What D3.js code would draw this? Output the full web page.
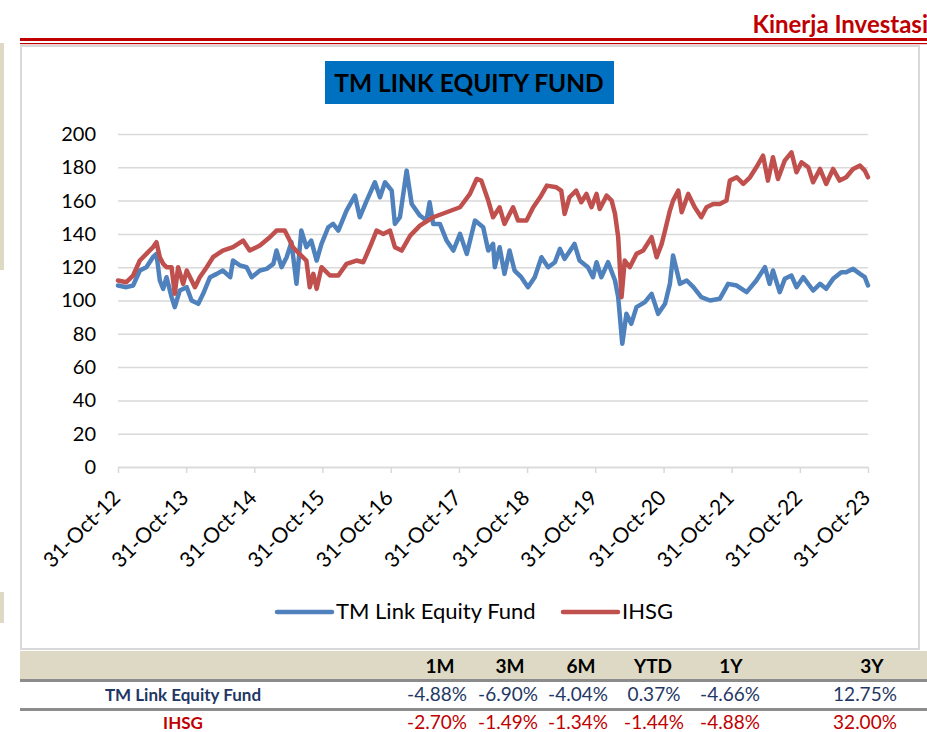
<!DOCTYPE html>
<html>
<head>
<meta charset="utf-8">
<script src="https://cdn.jsdelivr.net/npm/d3@7"></script>
<style>
  body { margin: 0; background: #fff; }
  svg text { font-family: Lato, "Open Sans", sans-serif; }
</style>
</head>
<body>
<div id="container"></div>
<script>
// fund (TM Link Equity Fund) readings
const fundDates = ["2012-10-31","2012-12-15","2013-01-20","2013-02-25","2013-04-01","2013-05-06","2013-05-25","2013-06-12","2013-06-30","2013-07-18","2013-08-14","2013-08-31","2013-09-27","2013-11-03","2013-11-29","2014-01-04","2014-01-30","2014-03-08","2014-04-13","2014-05-15","2014-06-24","2014-07-09","2014-08-16","2014-09-20","2014-10-17","2014-11-30","2015-01-05","2015-02-10","2015-02-27","2015-03-26","2015-04-22","2015-05-18","2015-06-14","2015-07-10","2015-08-06","2015-09-01","2015-09-30","2015-10-26","2015-12-01","2015-12-27","2016-01-24","2016-03-08","2016-04-22","2016-05-18","2016-06-24","2016-08-07","2016-09-03","2016-09-30","2016-11-05","2016-11-22","2016-12-19","2017-01-24","2017-02-20","2017-04-05","2017-05-10","2017-05-27","2017-06-15","2017-07-21","2017-08-26","2017-10-01","2017-11-06","2017-12-12","2018-01-25","2018-03-10","2018-04-06","2018-05-02","2018-05-11","2018-06-06","2018-07-02","2018-07-29","2018-08-25","2018-09-30","2018-11-05","2018-12-11","2019-01-16","2019-02-21","2019-03-29","2019-04-25","2019-05-20","2019-07-12","2019-08-08","2019-09-22","2019-10-19","2019-11-07","2019-12-03","2020-01-08","2020-02-14","2020-03-02","2020-03-24","2020-04-15","2020-05-11","2020-06-08","2020-07-23","2020-08-28","2020-10-02","2020-11-08","2020-12-04","2020-12-21","2021-01-27","2021-03-04","2021-04-09","2021-05-21","2021-07-07","2021-08-28","2021-10-12","2021-11-27","2022-01-19","2022-03-12","2022-04-27","2022-05-22","2022-06-09","2022-07-15","2022-08-11","2022-09-16","2022-10-13","2022-11-18","2023-01-10","2023-02-16","2023-03-21","2023-04-27","2023-06-10","2023-07-06","2023-08-12","2023-09-18","2023-10-14","2023-10-31"];
const fundValues = [109,108,109,118,120,126,128,112,107,114,102,96,106,108,100,98,104,114,116,118,114,124,121,120,114,118,119,122,130,120,126,135,110,142,132,136,124,134,144,146,142,154,163,150,160,171,162,171,166,146,150,178,158,151,148,159,146,146,136,130,140,128,148,144,130,134,120,132,116,130,118,114,108,114,126,120,123,131,125,134,124,120,114,123,114,123,112,102,74,92,86,96,99,104,92,98,110,127,110,112,108,102,100,101,110,109,105,112,120,110,118,105,113,115,108,114,106,110,107,113,117,117,119,116,114,109];

// IHSG readings
const ihsgDates = ["2012-10-31","2012-12-15","2013-01-20","2013-02-25","2013-04-01","2013-05-06","2013-05-25","2013-06-12","2013-06-30","2013-07-18","2013-08-14","2013-08-31","2013-09-18","2013-10-15","2013-11-03","2013-12-17","2014-01-12","2014-02-18","2014-03-24","2014-05-15","2014-07-09","2014-09-01","2014-10-06","2014-11-30","2015-01-22","2015-02-27","2015-04-12","2015-05-09","2015-05-26","2015-06-30","2015-08-06","2015-08-24","2015-09-12","2015-09-30","2015-10-26","2015-12-10","2016-01-24","2016-03-08","2016-04-30","2016-06-06","2016-07-11","2016-08-16","2016-09-21","2016-10-27","2016-11-22","2016-12-28","2017-02-12","2017-04-05","2017-06-15","2017-08-26","2017-11-06","2017-12-29","2018-02-03","2018-02-28","2018-04-06","2018-05-02","2018-06-06","2018-07-02","2018-08-17","2018-09-13","2018-10-28","2018-12-03","2019-01-09","2019-02-14","2019-04-06","2019-05-02","2019-05-20","2019-06-15","2019-07-21","2019-08-17","2019-09-14","2019-10-11","2019-11-07","2019-11-24","2019-12-31","2020-01-27","2020-02-14","2020-03-02","2020-03-20","2020-04-06","2020-05-03","2020-06-08","2020-07-14","2020-08-28","2020-09-24","2020-10-21","2020-11-08","2020-12-04","2020-12-21","2021-01-18","2021-02-05","2021-03-12","2021-04-16","2021-05-21","2021-06-18","2021-07-24","2021-08-28","2021-10-03","2021-10-21","2021-11-27","2022-01-01","2022-02-06","2022-03-12","2022-04-17","2022-05-13","2022-06-09","2022-07-06","2022-08-11","2022-09-16","2022-10-13","2022-11-09","2022-12-15","2023-01-10","2023-02-16","2023-03-21","2023-04-27","2023-06-01","2023-07-06","2023-08-12","2023-09-18","2023-10-14","2023-10-31"];
const ihsgValues = [112,111,115,124,128,132,135,126,122,120,120,104,120,110,118,108,114,120,126,130,132,136,130,133,138,142,142,136,132,128,124,108,116,107,120,115,115,122,124,123,132,142,140,142,132,130,139,145,150,153,156,164,173,172,160,150,156,146,156,148,148,156,162,169,168,166,152,162,166,159,164,156,164,155,163,160,152,138,102,124,120,128,130,138,126,134,142,154,160,166,153,164,156,150,156,158,158,160,172,174,170,174,180,187,172,186,173,184,189,177,183,180,171,179,170,179,172,174,179,181,178,174];

const tickDates = ["2012-10-31","2013-10-31","2014-10-31","2015-10-31","2016-10-31","2017-10-31","2018-10-31","2019-10-31","2020-10-31","2021-10-31","2022-10-31","2023-10-31"];
const tickLabels = ["31-Oct-12","31-Oct-13","31-Oct-14","31-Oct-15","31-Oct-16","31-Oct-17","31-Oct-18","31-Oct-19","31-Oct-20","31-Oct-21","31-Oct-22","31-Oct-23"];
const yTicks = [0,20,40,60,80,100,120,140,160,180,200];

const seriesNames = ["TM Link Equity Fund", "IHSG"];
const periods = ["1M","3M","6M","YTD","1Y","3Y"];
const fundReturns = ["-4.88%","-6.90%","-4.04%","0.37%","-4.66%","12.75%"];
const ihsgReturns = ["-2.70%","-1.49%","-1.34%","-1.44%","-4.88%","32.00%"];

const W = 927, H = 732;
const blue = "#4f81bd", red = "#c0504d";
const parse = d3.timeParse("%Y-%m-%d");

const svg = d3.select("#container").append("svg")
  .attr("width", W).attr("height", H);

// page header
svg.append("text")
  .attr("x", 928).attr("y", 33)
  .attr("text-anchor", "end")
  .style("font-size", "24px").style("font-weight", "bold")
  .style("fill", "#c00000")
  .text("Kinerja Investasi");
svg.append("rect").attr("x", 20).attr("y", 38).attr("width", W - 20).attr("height", 3).attr("fill", "#c00000");
svg.append("rect").attr("x", 20).attr("y", 43).attr("width", W - 20).attr("height", 1.2).attr("fill", "#c00000");

// beige strips on the left edge
svg.append("rect").attr("x", 0).attr("y", 43).attr("width", 4).attr("height", 227).attr("fill", "#ddd9c4");
svg.append("rect").attr("x", 0).attr("y", 592).attr("width", 4).attr("height", 31).attr("fill", "#ddd9c4");

// chart box
svg.append("rect")
  .attr("x", 21).attr("y", 46).attr("width", 898).attr("height", 603)
  .attr("fill", "#fff").attr("stroke", "#d9d9d9").attr("stroke-width", 2);

// title
svg.append("rect").attr("x", 325).attr("y", 61).attr("width", 289).attr("height", 43).attr("fill", "#0070c0");
svg.append("text")
  .attr("x", 469).attr("y", 92)
  .attr("text-anchor", "middle")
  .style("font-size", "24.5px").style("font-weight", "bold").style("fill", "#000")
  .text("TM LINK EQUITY FUND");

// scales
const x = d3.scaleTime()
  .domain([parse(tickDates[0]), parse(tickDates[tickDates.length - 1])])
  .range([118, 868]);
const y = d3.scaleLinear().domain([0, 200]).range([467, 134]);

// grid + y labels
const yAxis = svg.append("g")
  .attr("transform", "translate(118,0)")
  .call(d3.axisLeft(y).tickValues(yTicks).tickSize(-750).tickPadding(22));
yAxis.select(".domain").remove();
yAxis.selectAll("line").attr("stroke", "#d9d9d9").attr("stroke-width", 1.5);
yAxis.selectAll("text").style("font-size", "20px").style("fill", "#000").style("font-family", "Lato, sans-serif");

// x axis
const xAxis = svg.append("g")
  .attr("transform", "translate(0,467)")
  .call(d3.axisBottom(x)
    .tickValues(tickDates.map(parse))
    .tickFormat((d, i) => tickLabels[i])
    .tickSize(6).tickSizeOuter(0));
xAxis.select(".domain").attr("stroke", "#d9d9d9").attr("stroke-width", 1.5);
xAxis.selectAll("line").attr("stroke", "#d9d9d9").attr("stroke-width", 1.5);
xAxis.selectAll("text")
  .style("font-size", "21px").style("fill", "#000").style("font-family", "Lato, sans-serif")
  .attr("text-anchor", "end")
  .attr("x", 0).attr("y", 0).attr("dy", "0.35em")
  .attr("transform", "translate(-2,27) rotate(-45)");

// lines
const line = d3.line().x(d => x(d[0])).y(d => y(d[1]));
const fundData = fundDates.map((d, i) => [parse(d), fundValues[i]]);
const ihsgData = ihsgDates.map((d, i) => [parse(d), ihsgValues[i]]);

[[fundData, blue], [ihsgData, red]].forEach(([data, color]) => {
  svg.append("path")
    .datum(data)
    .attr("d", line)
    .attr("fill", "none")
    .attr("stroke", color)
    .attr("stroke-width", 4.5)
    .attr("stroke-linejoin", "round")
    .attr("stroke-linecap", "round");
});

// legend
const legend = [[seriesNames[0], blue, 277], [seriesNames[1], red, 563]];
legend.forEach(([name, color, lx]) => {
  svg.append("line")
    .attr("x1", lx).attr("x2", lx + 55).attr("y1", 612).attr("y2", 612)
    .attr("stroke", color).attr("stroke-width", 4.5).attr("stroke-linecap", "round");
  svg.append("text")
    .attr("x", lx + 59).attr("y", 619)
    .style("font-size", "22px").style("fill", "#000")
    .text(name);
});

// returns table
svg.append("rect").attr("x", 20).attr("y", 651).attr("width", W - 20).attr("height", 28).attr("fill", "#ddd9c4");
svg.append("rect").attr("x", 20).attr("y", 679).attr("width", W - 20).attr("height", 3).attr("fill", "#8c8c8c");
svg.append("rect").attr("x", 20).attr("y", 708).attr("width", W - 20).attr("height", 3).attr("fill", "#8c8c8c");

const headX = [440, 510, 581, 653, 731, 872];
const valX = [437, 508, 578, 654, 730, 865];
periods.forEach((p, i) => {
  svg.append("text").attr("x", headX[i]).attr("y", 673)
    .attr("text-anchor", "middle")
    .style("font-size", "19px").style("font-weight", "bold").style("fill", "#000")
    .text(p);
});

const rows = [
  [seriesNames[0], fundReturns, "#1f3864", 701],
  [seriesNames[1], ihsgReturns, "#c00000", 729]
];
rows.forEach(([name, vals, color, ry]) => {
  svg.append("text").attr("x", 183).attr("y", ry)
    .attr("text-anchor", "middle")
    .style("font-size", "17px").style("font-weight", "bold").style("fill", color)
    .text(name);
  vals.forEach((v, i) => {
    svg.append("text").attr("x", valX[i]).attr("y", ry)
      .attr("text-anchor", "middle")
      .style("font-size", "19px").style("fill", color)
      .text(v);
  });
});
</script>
</body>
</html>
